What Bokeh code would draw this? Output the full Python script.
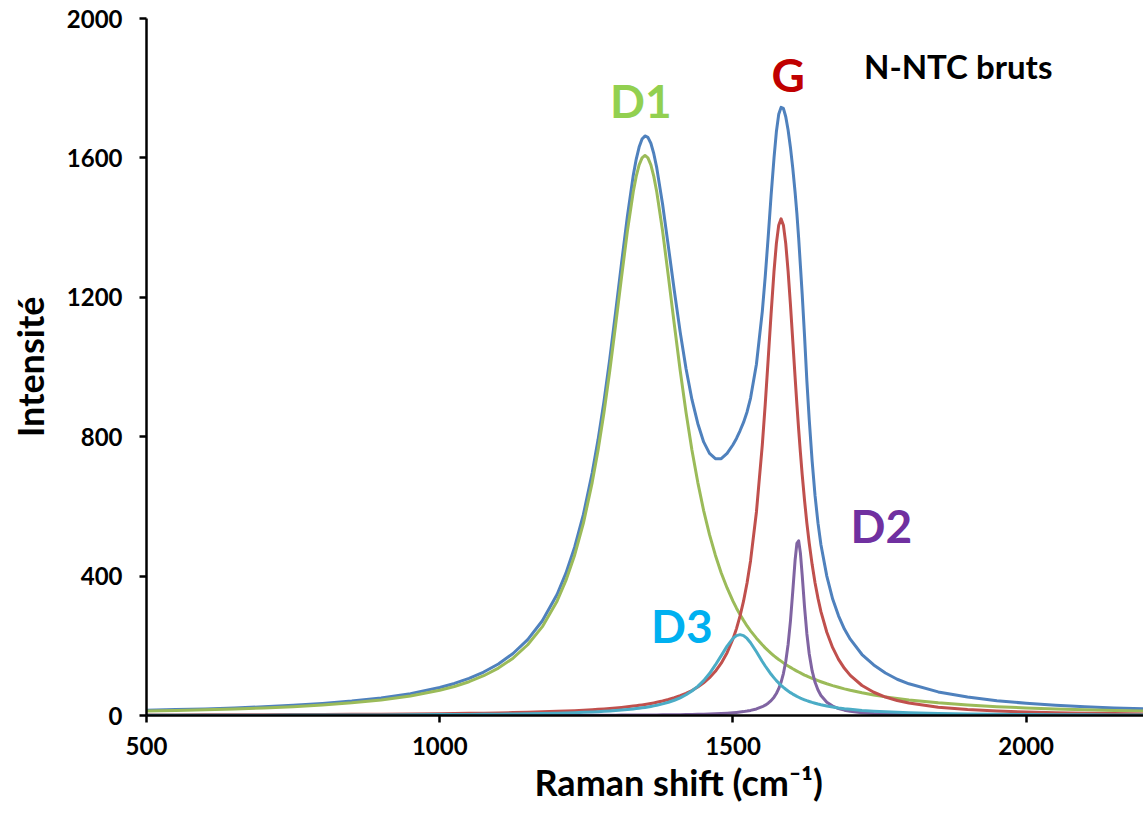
from bokeh.plotting import figure
from bokeh.models import Label, FixedTicker, Range1d, Title
from bokeh.embed import file_html
from bokeh.resources import INLINE

# Raman shift (cm-1) sample positions
raman_shift = [500, 550, 600, 650, 700, 750, 800, 850, 900, 950,
               1000, 1025, 1050, 1075, 1100, 1125, 1150, 1175, 1200, 1215,
               1230, 1245, 1260, 1270, 1280, 1290, 1300, 1310, 1320, 1330,
               1335, 1340, 1345, 1350, 1355, 1360, 1365, 1370, 1380, 1390,
               1400, 1410, 1420, 1430, 1440, 1450, 1460, 1470, 1480, 1490,
               1500, 1506, 1512, 1518, 1524, 1530, 1540, 1550, 1555, 1560,
               1565, 1570, 1574, 1578, 1582, 1586, 1590, 1594, 1598, 1602,
               1606, 1609, 1612, 1615, 1618, 1622, 1626, 1630, 1635, 1640,
               1645, 1650, 1660, 1670, 1680, 1690, 1700, 1720, 1740, 1760,
               1780, 1800, 1850, 1900, 1950, 2000, 2050, 2100, 2150, 2200]

# measured spectrum (blue)
total = [14.9, 16.9, 19.0, 21.7, 25.1, 29.2, 34.4, 41.3, 50.3, 62.7,
         80.4, 92.0, 106.5, 124.7, 147.8, 177.8, 217.8, 271.8, 347.2, 407.7,
         482.9, 577.1, 696.6, 791.6, 900.7, 1024, 1159, 1298, 1433, 1550,
         1596, 1631, 1654, 1663, 1659, 1642, 1612, 1572, 1467, 1344,
         1219, 1100, 995, 907, 838, 785, 752, 737, 737, 752,
         777, 795, 817, 841, 871, 911, 1008, 1159, 1259, 1372,
         1492, 1600, 1675, 1725, 1745, 1742, 1718, 1680, 1630, 1570,
         1500, 1440, 1370, 1290, 1210, 1090, 960, 850, 730, 630,
         552, 490, 400, 334, 286, 248, 219, 175, 145, 122,
         104, 91.0, 67.7, 52.8, 42.5, 35.1, 29.5, 25.1, 21.8, 19.0]

# D1 band (green)
d1 = [12.7, 14.4, 16.3, 18.7, 21.7, 25.4, 30.1, 36.3, 44.6, 56.0,
      72.4, 83.3, 96.9, 114.1, 136, 164.6, 203, 255, 328, 386.8,
      460, 552, 669, 762, 869, 990, 1122, 1258, 1390, 1503,
      1547, 1580, 1600, 1607, 1600, 1580, 1547, 1503, 1390, 1258,
      1122, 990, 869, 762, 669, 588, 519, 460, 409, 366,
      328, 308, 290, 273, 257, 243, 222, 203, 194, 186,
      178.5, 171, 165.9, 160.7, 156, 151, 146.5, 142, 138, 134,
      130.2, 127.4, 124.7, 122.1, 119.6, 116, 113.3, 110.3, 106.7, 103.3,
      100, 96.9, 91.1, 85.8, 81.0, 76.5, 72.4, 65.1, 58.8, 53.4,
      48.7, 44.6, 36.3, 30.1, 25.4, 21.7, 18.7, 16.3, 14.4, 12.7]

# G band (red)
g_band = [1.49, 1.64, 1.81, 2.01, 2.24, 2.52, 2.85, 3.25, 3.74, 4.36,
          5.14, 5.60, 6.14, 6.76, 7.47, 8.31, 9.30, 10.46, 11.86, 12.85,
          13.96, 15.21, 16.64, 17.71, 18.88, 20.18, 21.62, 23.21, 24.98, 26.97,
          28.05, 29.19, 30.42, 31.71, 33.09, 34.56, 36.13, 37.81, 41.53, 45.83,
          50.82, 56.66, 63.56, 71.75, 81.6, 93.6, 108.4, 126.8, 150.1, 180.2,
          219.6, 249.3, 285, 328, 380.4, 444.3, 584, 776, 893, 1021,
          1153, 1275, 1354, 1407, 1425, 1407, 1354, 1275, 1179, 1074,
          969, 893, 821, 754, 692, 618, 552, 495, 433, 380.4,
          336, 298, 238.8, 194.6, 161.2, 135.4, 115.2, 86.1, 66.7, 53.0,
          43.2, 35.8, 23.9, 17.06, 12.77, 9.92, 7.93, 6.48, 5.39, 4.56]

# D2 band (purple)
d2 = [0.08, 0.09, 0.10, 0.11, 0.12, 0.13, 0.15, 0.17, 0.20, 0.23,
      0.27, 0.29, 0.31, 0.34, 0.38, 0.42, 0.47, 0.52, 0.58, 0.63,
      0.68, 0.74, 0.80, 0.85, 0.90, 0.96, 1.02, 1.09, 1.16, 1.25,
      1.29, 1.34, 1.39, 1.45, 1.50, 1.56, 1.63, 1.70, 1.84, 2.01,
      2.21, 2.43, 2.69, 3.00, 3.35, 3.78, 4.30, 4.92, 5.69, 6.66,
      7.89, 8.80, 9.88, 11.16, 12.72, 14.62, 18.86, 25.2, 29.6, 35.3,
      42.7, 52.6, 63.1, 76.9, 95.3, 120.3, 155.1, 203.7, 270.7, 356.7,
      447, 494, 501.4, 466, 403.2, 311.7, 234.6, 177.3, 128, 95.3,
      73.1, 57.5, 38.0, 26.9, 19.9, 15.3, 12.2, 8.18, 5.87, 4.41,
      3.44, 2.75, 1.72, 1.18, 0.86, 0.65, 0.51, 0.41, 0.34, 0.28]

# D3 band (cyan)
d3 = [0.66, 0.73, 0.81, 0.91, 1.02, 1.16, 1.33, 1.53, 1.79, 2.12,
      2.55, 2.82, 3.13, 3.49, 3.92, 4.43, 5.05, 5.81, 6.75, 7.42,
      8.21, 9.12, 10.19, 11.0, 11.92, 13.0, 14.14, 15.5, 17.0, 18.77,
      19.76, 20.8, 21.96, 23.2, 24.54, 26.0, 27.59, 29.31, 33.26, 38.0,
      43.76, 50.8, 59.44, 70.2, 83.5, 100, 120.4, 145, 171.7, 199,
      221.1, 229.2, 232, 229.2, 221.1, 208.8, 182.8, 155, 142, 130,
      118.2, 108, 100.1, 93.0, 86.6, 80.6, 75.2, 70.2, 65.6, 61.4,
      57.6, 54.9, 52.4, 50.0, 47.8, 45.1, 42.5, 40.2, 37.5, 35.1,
      32.8, 30.8, 27.3, 24.3, 21.7, 19.5, 17.7, 14.6, 12.3, 10.5,
      9.05, 7.88, 5.77, 4.41, 3.47, 2.81, 2.31, 1.94, 1.65, 1.42]

x_ticks = [500, 1000, 1500, 2000]
y_ticks = [0, 400, 800, 1200, 1600, 2000]

band_labels = ["D1", "G", "D2", "D3"]
band_label_x = [1343, 1594, 1753, 1413]
band_label_y = [1766, 1840, 546, 259]
band_label_colors = ["#92D050", "#C00000", "#7030A0", "#00B0F0"]

FONT = "Lato"

p = figure(width=1143, height=813, output_backend="svg", toolbar_location=None,
           x_range=Range1d(500, 2200), y_range=Range1d(0, 2000),
           min_border_left=146, min_border_top=18, min_border_right=0, min_border_bottom=98)

p.grid.visible = False
p.outline_line_color = None
p.background_fill_color = "white"
p.border_fill_color = "white"

p.line(raman_shift, total, line_color="#4F81BD", line_width=3, line_join="round")
p.line(raman_shift, d1, line_color="#9BBB59", line_width=3, line_join="round")
p.line(raman_shift, g_band, line_color="#C0504D", line_width=3, line_join="round")
p.line(raman_shift, d2, line_color="#8064A2", line_width=3, line_join="round")
p.line(raman_shift, d3, line_color="#4BACC6", line_width=3, line_join="round")

for ax, ticks in ((p.xaxis, x_ticks), (p.yaxis, y_ticks)):
    ax.ticker = FixedTicker(ticks=ticks)
    ax.axis_line_color = "black"
    ax.axis_line_width = 2.5
    ax.major_tick_line_color = "black"
    ax.major_tick_line_width = 2.5
    ax.major_tick_out = 7
    ax.major_tick_in = 0
    ax.minor_tick_line_color = None
    ax.major_label_text_font = FONT
    ax.major_label_text_font_style = "bold"
    ax.major_label_text_font_size = "24px"
    ax.major_label_text_color = "black"

p.xaxis.major_label_standoff = 14
p.yaxis.major_label_standoff = 17

p.yaxis.axis_label = "Intensité"
p.yaxis.axis_label_text_font = FONT
p.yaxis.axis_label_text_font_style = "bold"
p.yaxis.axis_label_text_font_size = "36px"
p.yaxis.axis_label_text_color = "black"
p.yaxis.axis_label_standoff = 12

p.add_layout(Title(text="Raman shift (cm⁻¹)", align="left", offset=388, standoff=0,
                   text_font=FONT, text_font_style="bold", text_font_size="36px",
                   text_color="black"), "below")

for t, lx, ly, c in zip(band_labels, band_label_x, band_label_y, band_label_colors):
    p.add_layout(Label(x=lx, y=ly, text=t, text_font=FONT, text_font_style="bold",
                       text_font_size="46px", text_color=c,
                       text_align="center", text_baseline="middle"))

p.add_layout(Label(x=1884, y=1863, text="N-NTC bruts", text_font=FONT, text_font_style="bold",
                   text_font_size="33px", text_color="black",
                   text_align="center", text_baseline="middle"))

open("out.html", "w").write(file_html(p, INLINE))
